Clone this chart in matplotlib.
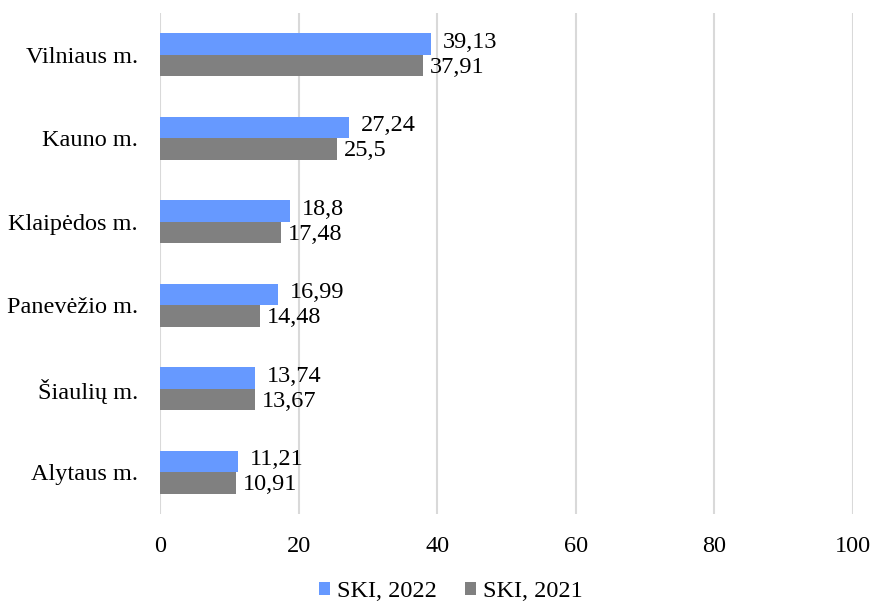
import matplotlib
matplotlib.use("Agg")
import matplotlib.pyplot as plt
import numpy as np

categories = ["Vilniaus m.", "Kauno m.", "Klaipėdos m.", "Panevėžio m.", "Šiaulių m.", "Alytaus m."]
ski_2022 = [39.13, 27.24, 18.8, 16.99, 13.74, 11.21]
ski_2021 = [37.91, 25.5, 17.48, 14.48, 13.67, 10.91]
labels_2022 = ["39,13", "27,24", "18,8", "16,99", "13,74", "11,21"]
labels_2021 = ["37,91", "25,5", "17,48", "14,48", "13,67", "10,91"]
xticks = [0, 20, 40, 60, 80, 100]

plt.rcParams['font.family'] = ['Liberation Serif', 'DejaVu Serif']

fig = plt.figure(figsize=(8.74, 6.03), dpi=100)
ax = fig.add_axes([160 / 874, 1 - 514 / 603, (853 - 160) / 874, 501 / 603])

n = len(categories)
y = np.arange(n)[::-1].astype(float)
h = 0.26
ax.barh(y + h / 2, ski_2022, height=h, color="#6699FF", label="SKI, 2022", zorder=3)
ax.barh(y - h / 2, ski_2021, height=h, color="#808080", label="SKI, 2021", zorder=3)

fs = 17.5
for yi, v, t in zip(y, ski_2022, labels_2022):
    ax.text(v + 1.7, yi + h / 2 + 0.02, t, va="center", ha="left", fontsize=fs)
for yi, v, t in zip(y, ski_2021, labels_2021):
    ax.text(v + 1.0, yi - h / 2 - 0.02, t, va="center", ha="left", fontsize=fs)

ax.set_xlim(0, 100)
ax.set_ylim(-0.5, n - 0.5)
ax.set_xticks(xticks)
ax.set_xticklabels([str(t) for t in xticks], fontsize=fs)
ax.set_yticks(y)
ax.set_yticklabels(categories, fontsize=fs)
ax.tick_params(length=0, pad=16, axis="y")
ax.tick_params(length=0, pad=16, axis="x")
ax.grid(axis="x", color="#D9D9D9", linewidth=1.5, zorder=0)
for s in ax.spines.values():
    s.set_visible(False)

fig.legend(loc="lower center", bbox_to_anchor=(0.516, -0.035), ncol=2, frameon=False,
           fontsize=fs, handlelength=0.45, handleheight=0.45, handletextpad=0.3, columnspacing=1.15)

fig.savefig("out.png", dpi=100)
